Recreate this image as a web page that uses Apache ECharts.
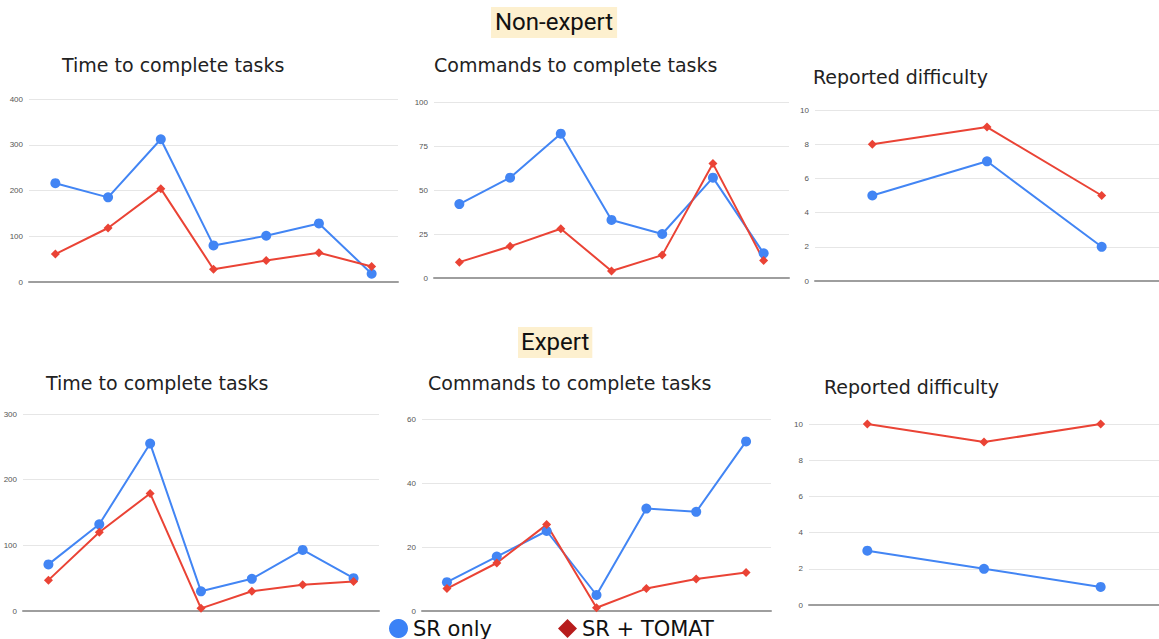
<!DOCTYPE html>
<html lang="en">

<head>
    <meta charset="UTF-8">
    <title>SR only vs SR + TOMAT</title>
    <style>
        body {
            margin: 0;
            background: #fff;
        }

        #chart {
            width: 1159px;
            height: 639px;
        }
    </style>
</head>

<body>
    <div id="chart"></div>
    <script src="https://cdn.jsdelivr.net/npm/echarts@6/dist/echarts.min.js"></script>
    <script>
        // categories (not labelled in the picture)
        const tasks = ['Task 1', 'Task 2', 'Task 3', 'Task 4', 'Task 5', 'Task 6', 'Task 7'];
        const questions = ['Q1', 'Q2', 'Q3'];

        // non-expert
        const novTimeSR = [216, 185, 312, 80, 101, 128, 18];
        const novTimeTomat = [61, 118, 204, 28, 47, 64, 34];
        const novCmdSR = [42, 57, 82, 33, 25, 57, 14];
        const novCmdTomat = [9, 18, 28, 4, 13, 65, 10];
        const novDiffSR = [5, 7, 2];
        const novDiffTomat = [8, 9, 5];

        // expert
        const expTimeSR = [71, 132, 255, 30, 49, 93, 50];
        const expTimeTomat = [47, 120, 179, 4, 30, 40, 45];
        const expCmdSR = [9, 17, 25, 5, 32, 31, 53];
        const expCmdTomat = [7, 15, 27, 1, 7, 10, 12];
        const expDiffSR = [3, 2, 1];
        const expDiffTomat = [10, 9, 10];

        // y axis max / step per panel
        const yMax = [400, 100, 10, 300, 60, 10];
        const yStep = [100, 25, 2, 100, 20, 2];

        const panelTitles = [
            'Time to complete tasks', 'Commands to complete tasks', 'Reported difficulty',
            'Time to complete tasks', 'Commands to complete tasks', 'Reported difficulty'
        ];

        const panels = [
            { cats: tasks, sr: novTimeSR, tomat: novTimeTomat },
            { cats: tasks, sr: novCmdSR, tomat: novCmdTomat },
            { cats: questions, sr: novDiffSR, tomat: novDiffTomat },
            { cats: tasks, sr: expTimeSR, tomat: expTimeTomat },
            { cats: tasks, sr: expCmdSR, tomat: expCmdTomat },
            { cats: questions, sr: expDiffSR, tomat: expDiffTomat }
        ];

        const grids = [
            { left: 29, top: 99, width: 369, height: 183 },
            { left: 434, top: 102, width: 355, height: 176 },
            { left: 815, top: 110, width: 345, height: 171 },
            { left: 23, top: 414, width: 356, height: 197 },
            { left: 422, top: 419, width: 349, height: 192 },
            { left: 809, top: 424, width: 363, height: 181 }
        ];

        const titlePos = [
            [62, 55], [434, 55], [813, 67],
            [46, 373], [428, 373], [824, 377]
        ];

        const BLUE = '#4285F4';
        const RED = '#EA4335';
        const titleFont = 'DejaVu Sans';

        const chart = echarts.init(document.getElementById('chart'), null, { renderer: 'svg' });

        const titles = [
            {
                text: 'Non-expert', left: 491, top: 7, padding: [3, 4, 4, 4],
                backgroundColor: '#fdf0cf',
                textStyle: { fontFamily: 'Roboto', fontSize: 24, fontWeight: 'normal', color: '#111' }
            },
            {
                text: 'Expert', left: 518, top: 327, padding: [3, 3, 4, 3],
                backgroundColor: '#fdf0cf',
                textStyle: { fontFamily: 'Roboto', fontSize: 24, fontWeight: 'normal', color: '#111' }
            }
        ];
        panelTitles.forEach((t, i) => {
            titles.push({
                text: t, left: titlePos[i][0], top: titlePos[i][1], padding: 0,
                textStyle: { fontFamily: titleFont, fontSize: 19, fontWeight: 'normal', color: '#222' }
            });
        });

        const xAxis = [], yAxis = [], series = [];
        panels.forEach((p, i) => {
            xAxis.push({
                type: 'category', gridIndex: i, data: p.cats, boundaryGap: true,
                axisLine: { lineStyle: { color: '#9e9e9e', width: 2 } },
                axisTick: { show: false },
                axisLabel: { show: false }
            });
            yAxis.push({
                type: 'value', gridIndex: i, min: 0, max: yMax[i], interval: yStep[i],
                axisLine: { show: false },
                axisTick: { show: false },
                axisLabel: { fontSize: 8, color: '#555', margin: 6 },
                splitLine: { lineStyle: { color: '#e6e6e6', width: 1 } }
            });
            series.push({
                name: 'SR only', type: 'line', xAxisIndex: i, yAxisIndex: i, data: p.sr,
                symbol: 'circle', symbolSize: 10, color: BLUE,
                lineStyle: { width: 2, color: BLUE }, itemStyle: { color: BLUE }
            });
            series.push({
                name: 'SR + TOMAT', type: 'line', xAxisIndex: i, yAxisIndex: i, data: p.tomat,
                symbol: 'diamond', symbolSize: 9, color: RED,
                lineStyle: { width: 2, color: RED }, itemStyle: { color: RED }
            });
        });

        chart.setOption({
            animation: false,
            title: titles,
            grid: grids,
            xAxis: xAxis,
            yAxis: yAxis,
            series: series,
            legend: {
                left: 389, top: 618, padding: 0, itemGap: 66,
                itemWidth: 19, itemHeight: 19,
                textStyle: { fontFamily: titleFont, fontSize: 21, color: '#111' },
                data: [
                    { name: 'SR only', icon: 'circle', itemStyle: { color: '#3b82f6' } },
                    { name: 'SR + TOMAT', icon: 'diamond', itemStyle: { color: '#b71c1c' } }
                ]
            }
        });
    </script>
</body>

</html>
